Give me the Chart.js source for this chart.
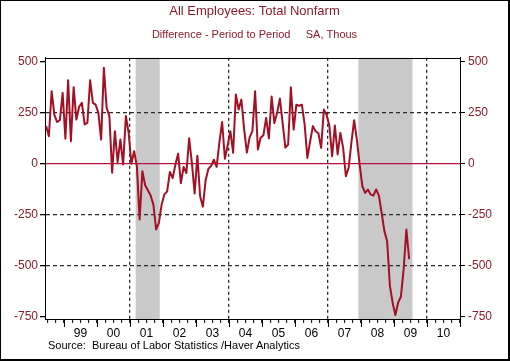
<!DOCTYPE html>
<html>
<head>
<meta charset="utf-8">
<script src="https://cdn.jsdelivr.net/npm/chart.js@4.4.0/dist/chart.umd.min.js"></script>
<style>
  body { margin: 0; background: #fff; }
  #frame { position: relative; width: 510px; height: 361px; box-sizing: border-box;
           border-style: solid; border-color: #000; border-width: 1px 2px 2px 1px; background: #fff; }
  #chart { position: absolute; left: 0; top: 0; }
  #source { position: absolute; left: 47px; top: 338px; font: 11px 'Liberation Sans', Arial, sans-serif;
            color: #000; white-space: pre; line-height: 13px; }
</style>
</head>
<body>
<div id="frame">
  <canvas id="chart" width="507" height="358"></canvas>
  <div id="source">Source:  Bureau of Labor Statistics /Haver Analytics</div>
</div>
<script>
// monthly change in nonfarm payrolls, thousands, starting Jun 1998
const startYear = 1998;
const startMonth = 6;
const payrollChange = [
  185, 135, 356, 240, 205, 215, 348,                                  // 1998 Jun-Dec
  123, 410, 111, 376, 217, 280, 299, 193, 201, 410, 299, 290,        // 1999
  250, 119, 471, 275, 234, -44, 160, 8, 119, -3, 234, 152,           // 2000
  0, 62, -12, -273, -36, -105, -130, -155, -200, -322, -290, -200,   // 2001
  -150, -135, -40, -70, -5, 50, -95, -15, -45, 125, 5, -145,         // 2002
  40, -159, -210, -80, -25, -10, 20, -15, 105, 205, 25, 90,          // 2003
  160, 54, 340, 266, 315, 170, 55, 130, 160, 356, 70, 128,           // 2004
  140, 225, 125, 330, 200, 250, 320, 200, 80, 95, 375, 168,          // 2005
  290, 285, 290, 193, 29, 110, 185, 160, 150, 78, 266, 240,          // 2006
  185, 37, 188, 46, 152, 78, -61, -20, 103, 214, 119, -3,            // 2007
  -110, -142, -126, -150, -156, -126, -156, -240, -330, -380, -597, -681, // 2008
  -741, -681, -652, -519, -322, -467                                  // 2009 Jan-Jun
];
const yearLabels = ['99', '00', '01', '02', '03', '04', '05', '06', '07', '08', '09', '10'];
const firstLabelYear = 1999;
const yTicks = [-750, -500, -250, 0, 250, 500];
const dashedY = [250, -250, -500];
const dashedX = [2001, 2004, 2007, 2010];
// recessions as decimal years
const recessions = [[2001.17, 2001.9], [2007.92, 2009.56]];

const crimson = '#8b1c2c';
const lineRed = '#a30f25';
const zeroRed = '#b5123f';
const dashColor = '#2b2b2b';

Chart.defaults.font.family = "'Liberation Sans', Arial, sans-serif";
Chart.defaults.font.size = 12;

const points = payrollChange.map((v, i) => ({
  x: startYear + (startMonth - 1 + i + 0.5) / 12,
  y: v
}));

const near = (a, b) => Math.abs(a - b) < 1e-6;

const recessionPlugin = {
  id: 'recessions',
  beforeDraw(chart) {
    const x = chart.scales.x, area = chart.chartArea, ctx = chart.ctx;
    ctx.save();
    ctx.fillStyle = '#c9c9c9';
    recessions.forEach(r => {
      const x1 = x.getPixelForValue(r[0]);
      const x2 = x.getPixelForValue(r[1]);
      ctx.fillRect(x1, area.top, x2 - x1, area.bottom - area.top);
    });
    ctx.restore();
  }
};

const framePlugin = {
  id: 'frameTicks',
  afterDraw(chart) {
    const x = chart.scales.x, area = chart.chartArea, ctx = chart.ctx;
    ctx.save();
    ctx.strokeStyle = '#000';
    ctx.lineWidth = 1;
    ctx.beginPath();
    // longer ticks at year boundaries
    for (let yr = Math.ceil(x.min); yr <= x.max; yr++) {
      const px = Math.round(x.getPixelForValue(yr)) + 0.5;
      ctx.moveTo(px, area.bottom);
      ctx.lineTo(px, area.bottom + 8);
    }
    // top of the box
    ctx.moveTo(area.left, Math.round(area.top) + 0.5);
    ctx.lineTo(area.right, Math.round(area.top) + 0.5);
    ctx.stroke();
    ctx.restore();
  }
};

const yCommon = {
  type: 'linear',
  min: -761,
  max: 520,
  afterBuildTicks: s => { s.ticks = yTicks.map(v => ({ value: v })); },
  border: { display: true, color: '#000', width: 1 },
  ticks: {
    color: crimson,
    font: { size: 12 },
    callback: v => String(v)
  }
};

new Chart(document.getElementById('chart'), {
  type: 'line',
  data: {
    datasets: [{
      data: points,
      borderColor: lineRed,
      borderWidth: 2,
      borderJoinStyle: 'round',
      pointRadius: 0,
      tension: 0,
      fill: false,
      xAxisID: 'x',
      yAxisID: 'y'
    }]
  },
  options: {
    responsive: false,
    animation: false,
    devicePixelRatio: 1,
    layout: { padding: 0 },
    plugins: {
      legend: { display: false },
      tooltip: { enabled: false },
      title: {
        display: true,
        text: 'All Employees: Total Nonfarm',
        color: crimson,
        font: { size: 13, weight: 'normal' },
        padding: { top: 3, bottom: 8 }
      },
      subtitle: {
        display: true,
        text: 'Difference - Period to Period     SA, Thous',
        color: crimson,
        font: { size: 11, weight: 'normal' },
        padding: { top: 1, bottom: 16 }
      }
    },
    scales: {
      x: {
        type: 'linear',
        min: 1998.424,
        max: 2011,
        afterFit: s => { s.height = 40; },
        border: {
          display: true, color: '#000', width: 1,
          dash: c => (c.tick && dashedX.some(d => near(d, c.tick.value)) ? [3, 3] : [])
        },
        grid: {
          color: c => (c.tick && dashedX.some(d => near(d, c.tick.value)) ? dashColor : 'rgba(0,0,0,0)'),
          lineWidth: 1.3,
          tickColor: '#000',
          tickLength: 4,
          tickWidth: 1
        },
        ticks: {
          stepSize: 0.25,
          includeBounds: false,
          autoSkip: false,
          maxRotation: 0,
          minRotation: 0,
          padding: 3,
          color: '#000',
          font: { size: 12 },
          callback: v => {
            const yr = v - 0.5;
            if (near(yr, Math.round(yr))) {
              const lab = yearLabels[Math.round(yr) - firstLabelYear];
              return lab === undefined ? '' : lab;
            }
            return '';
          }
        }
      },
      y: Object.assign({}, yCommon, {
        position: 'left',
        afterFit: s => { s.width = 44; },
        border: {
          display: true, color: '#000', width: 1,
          dash: c => (c.tick && c.tick.value !== 0 ? [4, 3] : [])
        },
        grid: {
          color: c => {
            if (!c.tick) return 'rgba(0,0,0,0)';
            if (c.tick.value === 0) return zeroRed;
            return dashedY.includes(c.tick.value) ? dashColor : 'rgba(0,0,0,0)';
          },
          lineWidth: 1.3,
          tickColor: '#000',
          tickLength: 5
        },
        ticks: Object.assign({}, yCommon.ticks, { padding: 2 })
      }),
      yRight: Object.assign({}, yCommon, {
        position: 'right',
        afterFit: s => { s.width = 48; },
        grid: { drawOnChartArea: false, tickColor: '#000', tickLength: 5 },
        ticks: Object.assign({}, yCommon.ticks, { padding: 3 })
      })
    }
  },
  plugins: [recessionPlugin, framePlugin]
});
</script>
</body>
</html>
